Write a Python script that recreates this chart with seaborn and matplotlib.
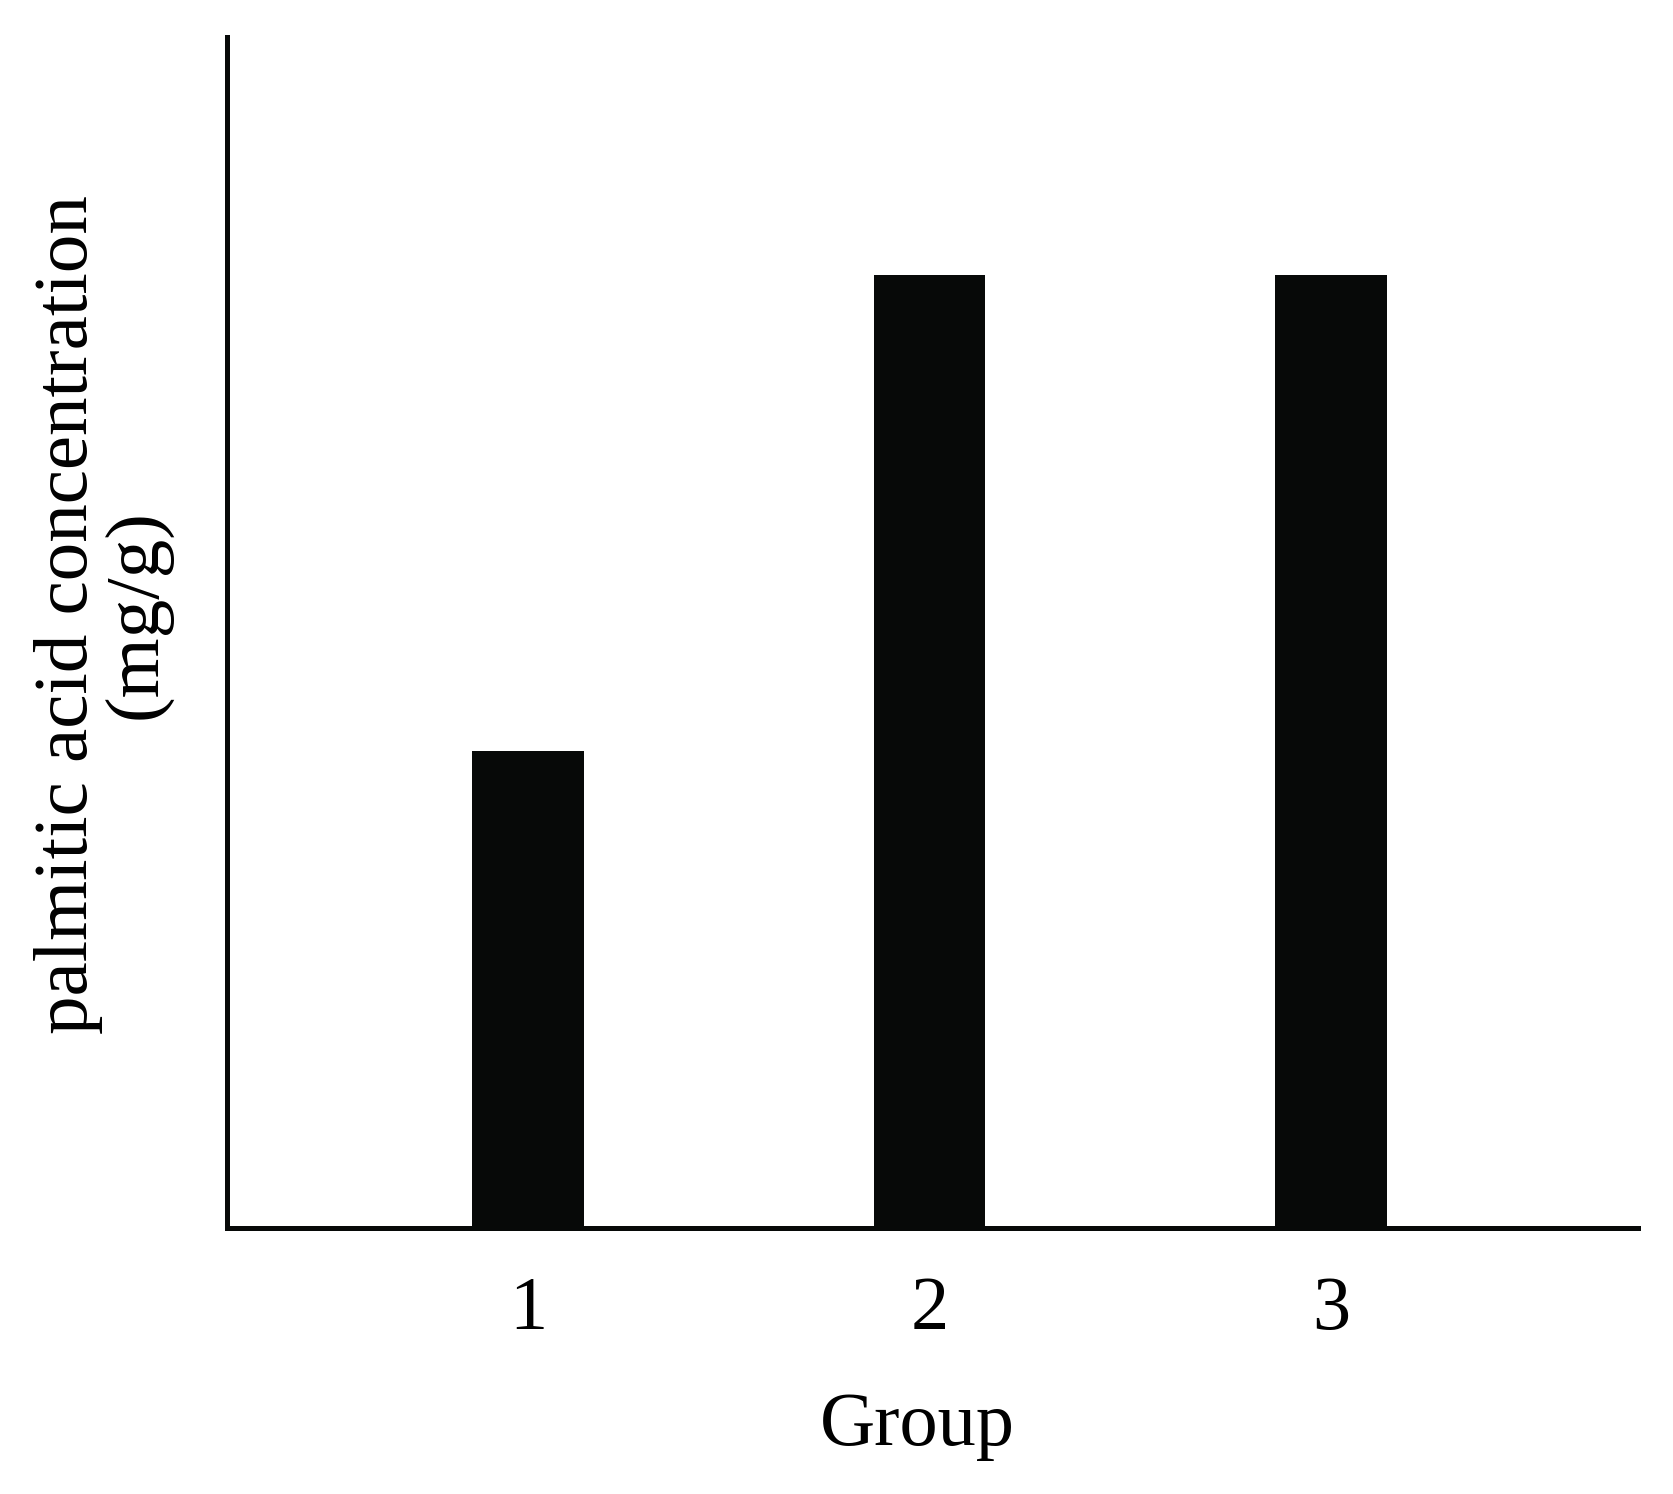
import matplotlib as mpl
mpl.use('Agg')
import matplotlib.pyplot as plt
import seaborn as sb
import pandas as pd

# bar heights (no y scale shown, so units are relative)
groups = ['1', '2', '3']
conc = [4.0, 8.0, 8.0]

W, H = 1674, 1494
sb.set_style('white')
plt.rcParams['font.family'] = ['Liberation Serif', 'DejaVu Serif']
plt.rcParams['text.color'] = 'black'
plt.rcParams['axes.labelcolor'] = 'black'
plt.rcParams['xtick.color'] = 'black'

fig = plt.figure(figsize=(W / 100, H / 100), dpi=100)
ax = fig.add_axes([227 / W, 1 - 1227.5 / H, (1638 - 227) / W, (1227.5 - 37) / H])

df = pd.DataFrame({'Group': groups, 'conc': conc})
sb.barplot(data=df, x='Group', y='conc', color='#070908', saturation=1,
           width=0.277, linewidth=0, ax=ax)

ax.set_xlim(-0.75, 2.765)
ax.set_ylim(0, 10)
ax.set_yticks([])
for side in ['top', 'right']:
    ax.spines[side].set_visible(False)
for side in ['left', 'bottom']:
    ax.spines[side].set_linewidth(3.6)
    ax.spines[side].set_color('#070908')
ax.tick_params(axis='x', length=0, pad=35, labelsize=55, labelcolor='black')
ax.set_xlabel('Group', fontsize=55, color='black')
ax.xaxis.set_label_coords(0.489, -0.138)
ax.set_ylabel('palmitic acid concentration\n(mg/g)', fontsize=55.5,
              color='black', linespacing=1.0)
ax.yaxis.set_label_coords(-0.039, 0.515)

fig.savefig('out.png', dpi=100)
